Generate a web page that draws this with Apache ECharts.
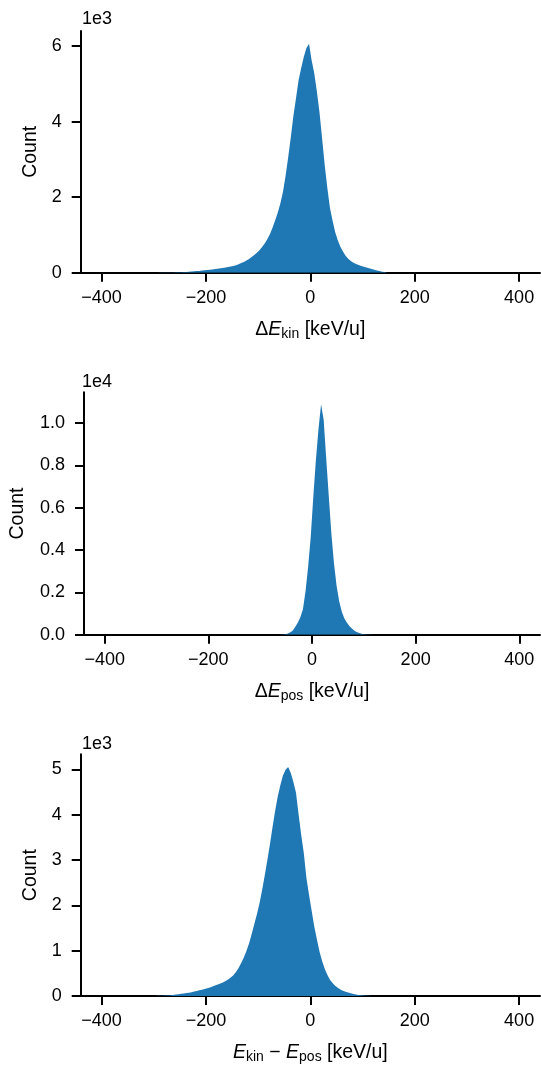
<!DOCTYPE html>
<html>
<head>
<meta charset="utf-8">
<script src="https://cdn.jsdelivr.net/npm/echarts@6/dist/echarts.min.js"></script>
<style>
  html, body { margin: 0; padding: 0; background: #fff; }
  #chart { width: 541px; height: 1065px; }
</style>
</head>
<body>
<div id="chart"></div>
<script>
// histogram bins: left edge of the first bin and bin width (keV/u), 90 bins
var binStart = -300;
var binWidth = 5;

// counts per bin
var kinCounts = [
  0, 0, 2, 3, 4, 5, 6, 8, 9, 11,
  13, 16, 20, 25, 30, 36, 42, 48, 55, 62,
  70, 78, 88, 96, 106, 116, 126, 137, 150, 165,
  180, 200, 225, 255, 285, 320, 365, 415, 470, 525,
  595, 680, 775, 885, 1020, 1190, 1380, 1590, 1830, 2140,
  2560, 3050, 3580, 4150, 4620, 5100, 5420, 5720, 5950, 6060,
  5620, 5280, 4800, 4250, 3560, 2850, 2250, 1720, 1380, 1080,
  860, 690, 560, 450, 370, 310, 265, 230, 205, 180,
  158, 135, 115, 95, 75, 58, 42, 28, 16, 8
];
var posCounts = [
  0, 0, 0, 0, 0, 0, 0, 0, 0, 0,
  0, 0, 0, 0, 0, 0, 0, 0, 0, 0,
  0, 0, 0, 0, 0, 0, 0, 0, 0, 0,
  0, 0, 0, 0, 0, 0, 0, 0, 0, 0,
  0, 0, 0, 0, 0, 0, 0, 2, 8, 20,
  45, 100, 190, 360, 560, 820, 1200, 2050, 3200, 4600,
  6500, 8250, 9700, 10880, 10150, 8300, 6500, 4750, 3350, 2300,
  1580, 1080, 760, 560, 400, 280, 180, 110, 65, 38,
  20, 10, 4, 0, 0, 0, 0, 0, 0, 0
];
var diffCounts = [
  2, 4, 6, 8, 10, 13, 18, 24, 32, 40,
  48, 56, 64, 74, 85, 98, 112, 125, 140, 155,
  172, 190, 210, 230, 252, 275, 300, 330, 365, 410,
  460, 530, 620, 730, 850, 990, 1160, 1360, 1580, 1800,
  2040, 2330, 2650, 2990, 3340, 3720, 4080, 4400, 4650, 4860,
  4990, 5050, 4920, 4720, 4480, 4000, 3550, 3150, 2600, 2230,
  1880, 1530, 1250, 980, 770, 600, 470, 360, 285, 225,
  180, 145, 118, 96, 78, 60, 45, 33, 23, 15,
  9, 5, 3, 1, 0, 0, 0, 0, 0, 0
];

var xTicks = [-400, -200, 0, 200, 400];
var kinTicks = [0, 2000, 4000, 6000];
var posTicks = [0, 2000, 4000, 6000, 8000, 10000];
var diffTicks = [0, 1000, 2000, 3000, 4000, 5000];

var chart = echarts.init(document.getElementById('chart'));

var font = '"Liberation Sans", Arial, sans-serif';
var blue = '#1f77b4';

// one point per bin centre
function toPoints(counts) {
    return counts.map(function (c, i) {
        return [binStart + (i + 0.5) * binWidth, c];
    });
}

function minus(v) {
    return v < 0 ? '\u2212' + Math.abs(v) : String(v);
}

var grids = [
    { left: 80.7, right: 1, top: 31, height: 241.7 },
    { left: 80.7, right: 1, top: 392.3, height: 242.4 },
    { left: 80.7, right: 1, top: 754.3, height: 242.4 }
];

var xNames = [
    '{n|\u0394}{i|E}{s|kin}{n| [keV/u]}',
    '{n|\u0394}{i|E}{s|pos}{n| [keV/u]}',
    '{i|E}{s|kin}{n| \u2212 }{i|E}{s|pos}{n| [keV/u]}'
];

var richName = {
    n: { fontSize: 19.5, fontFamily: font, color: '#000' },
    i: { fontSize: 19.5, fontFamily: font, fontStyle: 'italic', color: '#000' },
    s: { fontSize: 14, fontFamily: font, color: '#000', padding: [9, 0, 0, 0] }
};

var axisLine = { show: true, onZero: false, lineStyle: { color: '#000', width: 2 } };
var axisTickStyle = { lineStyle: { color: '#000', width: 2 }, length: 9 };

var xAxes = grids.map(function (g, k) {
    return {
        type: 'value', gridIndex: k, min: -440, max: 440,
        axisLine: axisLine,
        axisTick: Object.assign({ customValues: xTicks }, axisTickStyle),
        axisLabel: { customValues: xTicks, formatter: minus, margin: 16,
            fontSize: 18, fontFamily: font, color: '#000' },
        splitLine: { show: false },
        name: xNames[k], nameLocation: 'middle', nameGap: 45,
        nameTextStyle: { rich: richName }
    };
});

var yConf = [
    { max: 6400, ticks: kinTicks, fmt: function (v) { return String(v / 1000); }, gap: 38 },
    { max: 11450, ticks: posTicks, fmt: function (v) { return (v / 10000).toFixed(1); }, gap: 56 },
    { max: 5330, ticks: diffTicks, fmt: function (v) { return String(v / 1000); }, gap: 38 }
];

var yAxes = yConf.map(function (c, k) {
    return {
        type: 'value', gridIndex: k, min: 0, max: c.max,
        axisLine: axisLine,
        axisTick: Object.assign({ customValues: c.ticks }, axisTickStyle),
        axisLabel: { customValues: c.ticks, formatter: c.fmt, margin: 19,
            fontSize: 18, fontFamily: font, color: '#000' },
        splitLine: { show: false },
        name: 'Count', nameLocation: 'middle', nameGap: c.gap,
        nameTextStyle: { fontSize: 19.5, fontFamily: font, color: '#000' }
    };
});

var series = [kinCounts, posCounts, diffCounts].map(function (counts, k) {
    return {
        type: 'line', xAxisIndex: k, yAxisIndex: k,
        data: toPoints(counts),
        showSymbol: false,
        lineStyle: { width: 0 },
        areaStyle: { color: blue, opacity: 1 },
        silent: true,
        z: 1
    };
});

var offsetLabels = ['1e3', '1e4', '1e3'];
var offsetTops = [10.5, 373.5, 735.5];

var option = {
    animation: false,
    backgroundColor: '#fff',
    grid: grids,
    xAxis: xAxes,
    yAxis: yAxes,
    series: series,
    graphic: offsetLabels.map(function (t, k) {
        return {
            type: 'text', left: 82, top: offsetTops[k],
            style: { text: t, fontSize: 18, fontFamily: font, fill: '#000' }
        };
    })
};

chart.setOption(option);
</script>
</body>
</html>
